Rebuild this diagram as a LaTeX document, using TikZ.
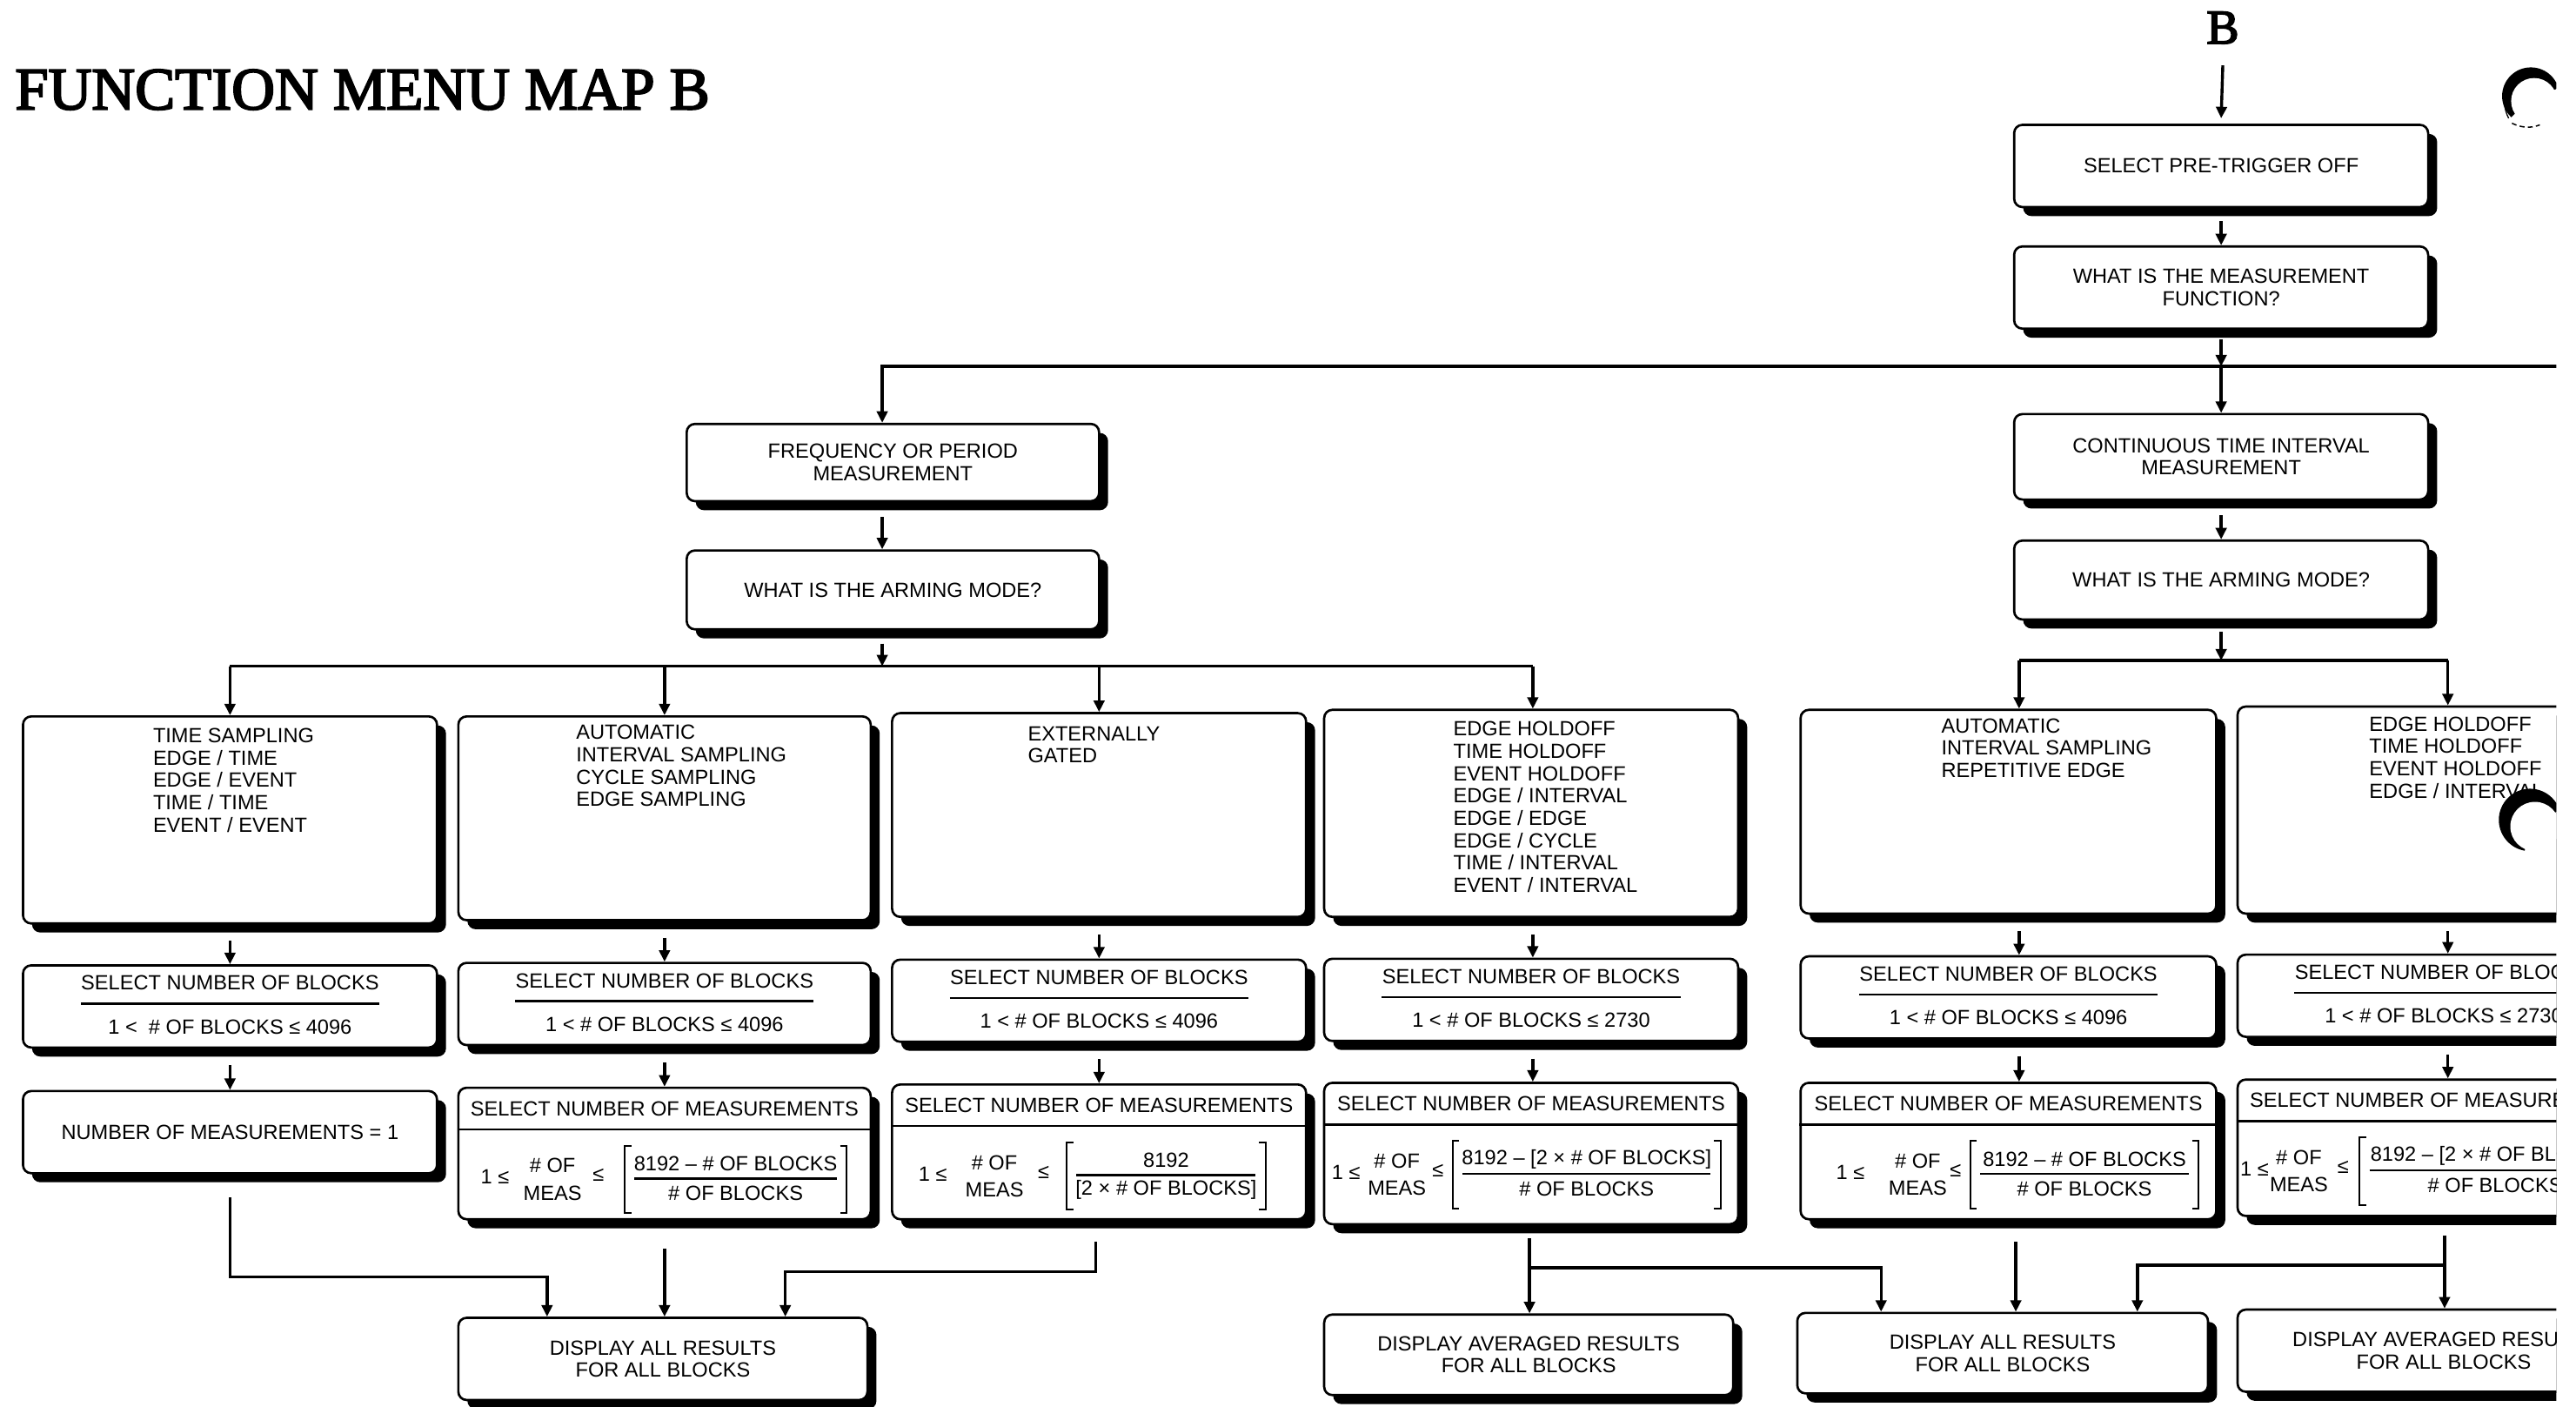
\documentclass[tikz,border=0pt]{standalone}
\usepackage{fontspec}
\setmainfont{Liberation Sans}
\newfontfamily\titlefont[FakeBold=3]{Liberation Serif}
\usetikzlibrary{shadows,arrows.meta}
\tikzset{
  box/.style={draw, line width=1.4pt, rounded corners=5pt, fill=white, inner sep=0pt, align=center,
    font=\fontsize{12.5}{13.6}\selectfont,
    drop shadow={shadow xshift=5.5pt, shadow yshift=-5.5pt, fill=black, opacity=1}},
  txt/.style={inner sep=0pt, font=\fontsize{12.5}{13.6}\selectfont},
  lst/.style={txt, align=left, anchor=north west},
  conn/.style={line width=1.8pt, -{Triangle[length=7pt,width=6.5pt]}},
  wire/.style={line width=1.8pt},
  rulel/.style={line width=1.4pt},
  brk/.style={line width=1.1pt},
}
\newcommand{\blk}[5]{%
  \node[box, minimum width=#4pt, minimum height=50pt] (#1) at (#2,#3) {};
  \node[txt] (#1t) at ([yshift=-11.5pt]#1.north) {SELECT NUMBER OF BLOCKS};
  \draw[rulel] ([yshift=-12.5pt]#1t.west) -- ([yshift=-12.5pt]#1t.east);
  \node[txt] (#1v) at ([yshift=-38pt]#1.north) {#5};
}
\newcommand{\mbx}[5]{%
  \node[box, minimum width=#4pt, minimum height=#5pt] (#1) at (#2,#3) {};
  \node[txt] (#1t) at ([yshift=-13.5pt]#1.north) {SELECT NUMBER OF MEASUREMENTS};
  \draw[rulel] ([yshift=-26pt]#1.north west) -- ([yshift=-26pt]#1.north east);
}
\newcommand{\measparts}[8]{%
  \node[txt] (#1a) at ([xshift=#2pt,yshift=-55pt]#1.north west) {1 ≤};
  \node[txt,align=center] (#1b) at ([xshift=#3pt,yshift=-56.5pt]#1.north west) {\# OF\\[3pt]MEAS};
  \node[txt] (#1c) at ([xshift=#4pt,yshift=-54pt]#1.north west) {≤};
  \draw[brk] ([xshift=#5pt+4pt,yshift=-36pt]#1.north west) -- ++(-4,0) -- ++(0,41) -- ++(4,0);
  \draw[brk] ([xshift=#6pt-4pt,yshift=-36pt]#1.north west) -- ++(4,0) -- ++(0,41) -- ++(-4,0);
  \node[txt] (#1n) at ([xshift={(#5+#6)/2},yshift=-47pt]#1.north west) {#7};
  \draw[rulel] ([xshift=#5pt+6pt,yshift=-56pt]#1.north west) -- ([xshift=#6pt-6pt,yshift=-56pt]#1.north west);
  \node[txt] (#1d) at ([xshift={(#5+#6)/2},yshift=-65pt]#1.north west) {#8};
}
\begin{document}
\begin{tikzpicture}[x=1pt,y=-1pt]
\useasboundingbox (0,0) rectangle (1568,856);
\begin{scope}
\clip (0,0) rectangle (1556,856);

% titles
\node[anchor=base west, inner sep=0pt, font=\titlefont\fontsize{36.5}{36.5}\selectfont] (title) at (9,66.5) {FUNCTION MENU MAP B};
\node[anchor=base, inner sep=0pt, font=\titlefont\fontsize{29.5}{29.5}\selectfont] (Blabel) at (1353,26.5) {B};

% top chain
\node[box, minimum width=252pt, minimum height=50pt] (pre) at (1352,101) {SELECT PRE-TRIGGER OFF};
\node[box, minimum width=252pt, minimum height=50pt] (func) at (1352,175) {WHAT IS THE MEASUREMENT\\FUNCTION?};
\node[box, minimum width=251pt, minimum height=47pt] (freq) at (543.5,281.5) {FREQUENCY OR PERIOD\\MEASUREMENT};
\node[box, minimum width=251pt, minimum height=48pt] (arm1) at (543.5,359) {WHAT IS THE ARMING MODE?};
\node[box, minimum width=252pt, minimum height=52pt] (cont) at (1352,278) {CONTINUOUS TIME INTERVAL\\MEASUREMENT};
\node[box, minimum width=252pt, minimum height=48pt] (arm2) at (1352,353) {WHAT IS THE ARMING MODE?};

% row 3
\node[box, minimum width=252pt, minimum height=126pt] (A1) at (140,499) {};
\node[lst] (A1t) at (93,443) {TIME SAMPLING\\EDGE / TIME\\EDGE / EVENT\\TIME / TIME\\EVENT / EVENT};
\node[box, minimum width=251pt, minimum height=124pt] (A2) at (404.5,498) {};
\node[lst] (A2t) at (350.5,441) {AUTOMATIC\\INTERVAL SAMPLING\\CYCLE SAMPLING\\EDGE SAMPLING};
\node[box, minimum width=252pt, minimum height=124pt] (A3) at (669,496) {};
\node[lst] (A3t) at (625.5,442) {EXTERNALLY\\GATED};
\node[box, minimum width=252pt, minimum height=126pt] (A4) at (932,495) {};
\node[lst] (A4t) at (884.5,439) {EDGE HOLDOFF\\TIME HOLDOFF\\EVENT HOLDOFF\\EDGE / INTERVAL\\EDGE / EDGE\\EDGE / CYCLE\\TIME / INTERVAL\\EVENT / INTERVAL};
\node[box, minimum width=253pt, minimum height=124pt] (C1) at (1222.5,494) {};
\node[lst] (C1t) at (1181.5,437) {AUTOMATIC\\INTERVAL SAMPLING\\REPETITIVE EDGE};
\node[box, minimum width=251pt, minimum height=126pt] (C2) at (1487.5,493) {};
\node[lst] (C2t) at (1442,436) {EDGE HOLDOFF\\TIME HOLDOFF\\EVENT HOLDOFF\\EDGE / INTERVAL};

% row 4
\blk{B1}{140}{612.5}{252}{1 <\ \ \# OF BLOCKS ≤ 4096}
\blk{B2}{404.5}{611}{251}{1 < \# OF BLOCKS ≤ 4096}
\blk{B3}{669}{609}{252}{1 < \# OF BLOCKS ≤ 4096}
\blk{B4}{932}{608.5}{252}{1 < \# OF BLOCKS ≤ 2730}
\blk{D1}{1222.5}{607}{253}{1 < \# OF BLOCKS ≤ 4096}
\blk{D2}{1487.5}{606}{251}{1 < \# OF BLOCKS ≤ 2730}

% row 5
\node[box, minimum width=252pt, minimum height=50pt] (E1) at (140,689) {NUMBER OF MEASUREMENTS = 1};
\mbx{E2}{404.5}{702}{251}{80}
\measparts{E2}{23}{58}{86}{102}{237}{8192 – \# OF BLOCKS}{\# OF BLOCKS}
\mbx{E3}{669}{701}{252}{82}
\measparts{E3}{25.5}{63}{93}{107}{228}{8192}{[2 × \# OF BLOCKS]}
\mbx{E4}{932}{702}{252}{86}
\measparts{E4}{14}{45}{70}{79}{242}{8192 – [2 × \# OF BLOCKS]}{\# OF BLOCKS}
\mbx{F1}{1222.5}{700.5}{253}{83}
\measparts{F1}{31}{72}{95}{104}{243}{8192 – \# OF BLOCKS}{\# OF BLOCKS}
\mbx{F2}{1487.5}{698.5}{251}{83}
\measparts{F2}{11}{38}{65}{75}{240}{8192 – [2 × \# OF BLOCKS]}{\# OF BLOCKS}

% row 6
\node[box, minimum width=249pt, minimum height=50pt] (G1) at (403.5,827) {DISPLAY ALL RESULTS\\FOR ALL BLOCKS};
\node[box, minimum width=249pt, minimum height=49pt] (G2) at (930.5,824.5) {DISPLAY AVERAGED RESULTS\\FOR ALL BLOCKS};
\node[box, minimum width=250pt, minimum height=49pt] (G3) at (1219,823.5) {DISPLAY ALL RESULTS\\FOR ALL BLOCKS};
\node[box, minimum width=251pt, minimum height=50pt] (G4) at (1487.5,822) {DISPLAY AVERAGED RESULTS\\FOR ALL BLOCKS};

% coordinates
\coordinate (Bend) at (1352,72);
\coordinate (busL) at (537,223);
\coordinate (busR) at (1562,223);
\coordinate (bus2L) at (140,405.5);
\coordinate (bus2R) at (933,405.5);
\coordinate (bus3L) at (1229,402);
\coordinate (bus3R) at (1490,402);
\coordinate (j1) at (140,777);
\coordinate (j1b) at (333,777);
\coordinate (j3) at (667,774);
\coordinate (j3b) at (478,774);
\coordinate (j4) at (931,771.5);
\coordinate (j4b) at (1145,771.5);
\coordinate (f1x) at (1227,760);
\coordinate (j6) at (1488,770);
\coordinate (j6b) at (1301,770);

% top connectors
\draw[conn] ([yshift=-13pt]Blabel.south) -- (Bend);
\draw[conn] ([yshift=-8pt]pre.south) -- (func.north);
\draw[conn] ([yshift=-6pt]func.south) -- (func.south |- busL);
\draw[conn] (busR) -- (busL) -- (freq.north -| busL);
\draw[conn] (func.south |- busL) -- (cont.north);
\draw[conn] ([yshift=-9pt]freq.south -| busL) -- (arm1.north -| busL);
\draw[conn] ([yshift=-8pt]arm1.south -| busL) -- (busL |- bus2L);
\draw[wire] (bus2L) -- (bus2R);
\draw[conn] (bus2L) -- (A1.north -| bus2L);
\draw[conn] (bus2L -| A2.north) -- (A2.north);
\draw[conn] (bus2L -| A3.north) -- (A3.north);
\draw[conn] (bus2R) -- (A4.north -| bus2R);
\draw[conn] ([yshift=-9pt]cont.south) -- (arm2.north);
\draw[conn] ([yshift=-7pt]arm2.south) -- (arm2.south |- bus3L);
\draw[wire] (bus3L) -- (bus3R);
\draw[conn] (bus3L) -- (C1.north -| bus3L);
\draw[conn] (bus3R) -- (C2.north -| bus3R);

% row 3 -> row 4
\draw[conn] ([yshift=-10pt]A1.south -| bus2L) -- (B1.north -| bus2L);
\draw[conn] ([yshift=-10pt]A2.south) -- (B2.north);
\draw[conn] ([yshift=-10pt]A3.south) -- (B3.north);
\draw[conn] ([yshift=-10pt]A4.south -| bus2R) -- (B4.north -| bus2R);
\draw[conn] ([yshift=-10pt]C1.south -| bus3L) -- (D1.north -| bus3L);
\draw[conn] ([yshift=-10pt]C2.south -| bus3R) -- (D2.north -| bus3R);
% row 4 -> row 5
\draw[conn] ([yshift=-10pt]B1.south -| bus2L) -- (E1.north -| bus2L);
\draw[conn] ([yshift=-10pt]B2.south) -- (E2.north);
\draw[conn] ([yshift=-10pt]B3.south) -- (E3.north);
\draw[conn] ([yshift=-10pt]B4.south -| bus2R) -- (E4.north -| bus2R);
\draw[conn] ([yshift=-10pt]D1.south -| bus3L) -- (F1.north -| bus3L);
\draw[conn] ([yshift=-10pt]D2.south -| bus3R) -- (F2.north -| bus3R);

% row 5 -> row 6
\draw[conn] ([yshift=-14pt]E1.south) -- (j1) -- (j1b) -- (G1.north -| j1b);
\draw[conn] ([yshift=-17pt]E2.south) -- (E2.south |- G1.north);
\draw[conn] ([yshift=-13pt]E3.south -| j3) -- (j3) -- (j3b) -- (G1.north -| j3b);
\draw[conn] ([yshift=-8pt]E4.south -| j4) -- (G2.north -| j4);
\draw[conn] (j4) -- (j4b) -- (G3.north -| j4b);
\draw[conn] ([yshift=-13pt]F1.south -| f1x) -- (G3.north -| f1x);
\draw[conn] ([yshift=-11pt]F2.south -| j6) -- (G4.north -| j6);
\draw[conn] (j6) -- (j6b) -- (G3.north -| j6b);

% punch holes
\begin{scope}
  \clip (1562,40) -- (1562,52) -- (1540,60) -- (1528,72) -- (1515,72) -- (1515,35) -- cycle;
  \fill (1540.5,58.5) circle[radius=17.5];
\end{scope}
\fill[white] (1542.5,61.5) circle[radius=14];
\draw[line width=0.7pt] (1524.5,62) .. controls (1524.5,66) and (1525.5,69) .. (1527,72);
\draw[line width=0.8pt, dash pattern=on 3pt off 2pt] (1529,75) .. controls (1535,78) and (1541,78) .. (1546,76);
\begin{scope}
  \clip (1562,475) -- (1560,492) -- (1541,502) -- (1532,535) -- (1500,535) -- (1500,470) -- cycle;
  \fill (1540,499) circle[radius=19];
\end{scope}
\fill[white] (1543,503) circle[radius=15];
\end{scope}
\end{tikzpicture}
\end{document}
